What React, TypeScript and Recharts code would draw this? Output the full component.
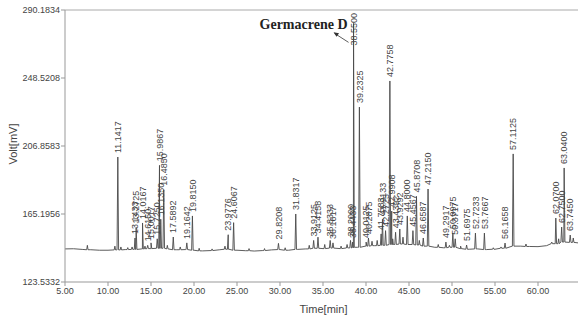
import { ComposedChart, Line, Scatter, XAxis, YAxis, ReferenceLine, ReferenceDot } from 'recharts'

// retention times [min] of the labelled peaks and their apex signal [mV]
const peakTimes = [
  11.1417, 13.1433, 13.2725, 14.0167, 14.615, 15.0017, 15.725, 15.9867, 16.135, 16.485,
  17.5892, 19.1642, 19.815, 23.9776, 24.6067, 29.8208, 31.8317, 33.9125, 34.4158, 35.8333,
  36.1617, 38.2, 38.4433, 38.55, 39.2325, 40.0125, 40.2875, 41.7583, 41.9133, 42.2725,
  42.7758, 42.9908, 43.4392, 43.9292, 44.8, 45.4567, 45.8708, 46.6587, 47.215, 49.2917,
  50.0975, 50.3717, 51.6975, 52.7233, 53.7667, 56.1658, 57.1125, 62.07, 62.75, 63.04, 63.745,
]
const peakHeights = [
  200.1, 150.5, 157.0, 159.7, 146.0, 147.5, 150.0, 195.0, 162.0, 180.0,
  151.1, 147.5, 164.0, 152.5, 159.9, 147.2, 165.2, 149.0, 151.0, 149.0,
  147.5, 149.0, 148.0, 282.0, 230.7, 148.0, 150.5, 153.0, 162.0, 155.0,
  246.7, 167.0, 154.0, 156.0, 164.0, 155.0, 176.0, 150.5, 180.5, 148.0,
  153.5, 150.0, 146.2, 153.5, 153.5, 147.4, 202.0, 162.7, 157.2, 193.4, 152.3,
]

// small unlabelled spikes riding on the baseline
const minorTimes = [7.6, 10.8, 11.5, 12.3, 12.8, 14.3, 16.9, 18.4, 20.6, 22.1, 23.6, 26.4, 28.2, 30.6, 33.4, 35.2, 37.1, 37.8, 40.7, 41.3, 43.1, 44.3, 46.2, 48.4, 49.7, 51.0, 54.8, 55.7, 58.6, 61.6, 62.4, 64.1]
const minorHeights = [146.0, 145.5, 145.0, 144.6, 145.0, 145.5, 146.0, 145.0, 144.2, 143.8, 145.5, 144.0, 144.0, 144.5, 146.0, 146.5, 145.5, 146.5, 148.5, 149.0, 150.0, 151.0, 149.0, 146.5, 146.0, 145.5, 144.5, 145.0, 146.8, 148.0, 150.0, 150.5]

// baseline drift of the trace
const baseTimes = [5, 6, 7, 8, 9, 10, 11, 12, 13, 14, 15, 16, 17, 18, 19, 20, 21, 22, 23, 24, 25, 26, 27, 28, 29, 30, 31, 32, 33, 34, 35, 36, 37, 38, 39, 40, 41, 42, 43, 44, 45, 46, 47, 48, 49, 50, 51, 52, 53, 54, 55, 56, 57, 58, 59, 60, 61, 62, 63, 64, 64.65]
const baseValues = [143.8, 143.9, 143.5, 143.3, 143.0, 143.0, 143.2, 143.4, 143.5, 143.8, 144.0, 144.2, 143.8, 143.3, 143.4, 143.0, 142.6, 142.8, 143.3, 143.6, 143.0, 142.7, 142.5, 142.8, 143.2, 143.4, 143.0, 143.5, 143.8, 144.2, 144.0, 144.3, 144.0, 144.4, 144.8, 145.5, 145.8, 146.0, 146.5, 146.8, 146.5, 146.2, 145.5, 144.8, 144.5, 144.8, 144.0, 143.6, 143.8, 143.4, 143.6, 144.2, 145.5, 145.5, 145.3, 145.2, 145.8, 147.0, 148.0, 147.8, 147.5]

const xTicks = [5, 10, 15, 20, 25, 30, 35, 40, 45, 50, 55, 60]
const yTicks = [123.5332, 165.1956, 206.8583, 248.5208, 290.1834]

const INK = '#4a4a4a'
const TEXT = '#444'

const baseAt = (t: number) => {
  let best = 0
  baseTimes.forEach((bt, i) => {
    if (Math.abs(bt - t) < Math.abs(baseTimes[best] - t)) best = i
  })
  return baseValues[best]
}

// each peak becomes foot - apex - foot on the baseline
const spikes = (times: number[], heights: number[], half: number) =>
  times.flatMap((t, i) => [
    { t: t - half, v: baseAt(t) },
    { t, v: heights[i] },
    { t: t + half, v: baseAt(t) },
  ])

const trace = [
  ...baseTimes.map((t, i) => ({ t, v: baseValues[i] })),
  ...spikes(peakTimes, peakHeights, 0.09),
  ...spikes(minorTimes, minorHeights, 0.08),
].sort((a, b) => a.t - b.t)

const peaks = peakTimes.map((t, i) => ({ t, v: peakHeights[i], tag: t.toFixed(4) }))

// rotated retention-time tag above each apex; tags that would leave the
// plot are pinned under the top frame instead
const PeakTag = (p: any) => {
  const pinned = p.cy - 42 < 10
  const y = pinned ? 13 : p.cy - 4
  return (
    <text
      x={p.cx}
      y={y}
      dy="0.35em"
      textAnchor={pinned ? 'end' : 'start'}
      transform={`rotate(-90, ${p.cx}, ${y})`}
      fontSize={9}
      fill={TEXT}
    >
      {p.payload.tag}
    </text>
  )
}

const Callout = (p: any) => (
  <g>
    <text x={p.cx - 6} y={p.cy + 6} textAnchor="end" fontFamily="'Liberation Serif', serif" fontWeight="bold" fontSize={14} fill="#222">
      Germacrene D
    </text>
    <line x1={p.cx - 5} y1={p.cy + 19} x2={p.cx - 19} y2={p.cy + 10} stroke="#333" strokeWidth={0.8} />
    <path d={`M${p.cx - 20},${p.cy + 9} l5.5,1 l-2.5,3.5 z`} fill="#333" />
  </g>
)

export default function App() {
  return (
    <div style={{ position: 'absolute', left: 0, top: 0 }}>
      <ComposedChart
        width={578}
        height={322}
        margin={{ top: 10, right: 0, bottom: 0, left: 5 }}
        style={{ fontFamily: "'Liberation Sans', Arial, sans-serif", background: '#fff' }}
      >
        <XAxis
          dataKey="t"
          type="number"
          domain={[5, 64.65]}
          ticks={xTicks}
          allowDataOverflow
          tickFormatter={(v: number) => v.toFixed(2)}
          tick={{ fill: TEXT, fontSize: 9 }}
          stroke="#999"
          tickSize={4}
          tickMargin={2}
          height={40}
          label={{
            content: ({ viewBox }: any) => (
              <text x={viewBox.x + viewBox.width / 2 + 2} y={viewBox.y + 31} textAnchor="middle" fontSize={11} fill={TEXT}>
                Time[min]
              </text>
            ),
          }}
        />
        <YAxis
          dataKey="v"
          type="number"
          domain={[123.5332, 290.1834]}
          ticks={yTicks}
          allowDataOverflow
          tickFormatter={(v: number) => v.toFixed(4)}
          tick={{ fill: TEXT, fontSize: 9 }}
          stroke="#999"
          tickSize={4}
          tickMargin={1}
          width={60}
          label={{
            content: ({ viewBox }: any) => (
              <text
                x={viewBox.x + 8}
                y={viewBox.y + viewBox.height / 2 - 2}
                transform={`rotate(-90, ${viewBox.x + 8}, ${viewBox.y + viewBox.height / 2 - 2})`}
                textAnchor="middle"
                dy="0.35em"
                fontSize={11}
                fill={TEXT}
              >
                Volt[mV]
              </text>
            ),
          }}
        />
        <ReferenceLine y={290.1834} stroke="#aaa" ifOverflow="visible" />
        <Line
          data={trace}
          dataKey="v"
          type="linear"
          stroke={INK}
          strokeWidth={0.9}
          dot={false}
          isAnimationActive={false}
        />
        <Scatter data={peaks} dataKey="v" shape={PeakTag} isAnimationActive={false} />
        <ReferenceDot x={38.55} y={282} r={0} shape={Callout} ifOverflow="visible" />
      </ComposedChart>
    </div>
  )
}
